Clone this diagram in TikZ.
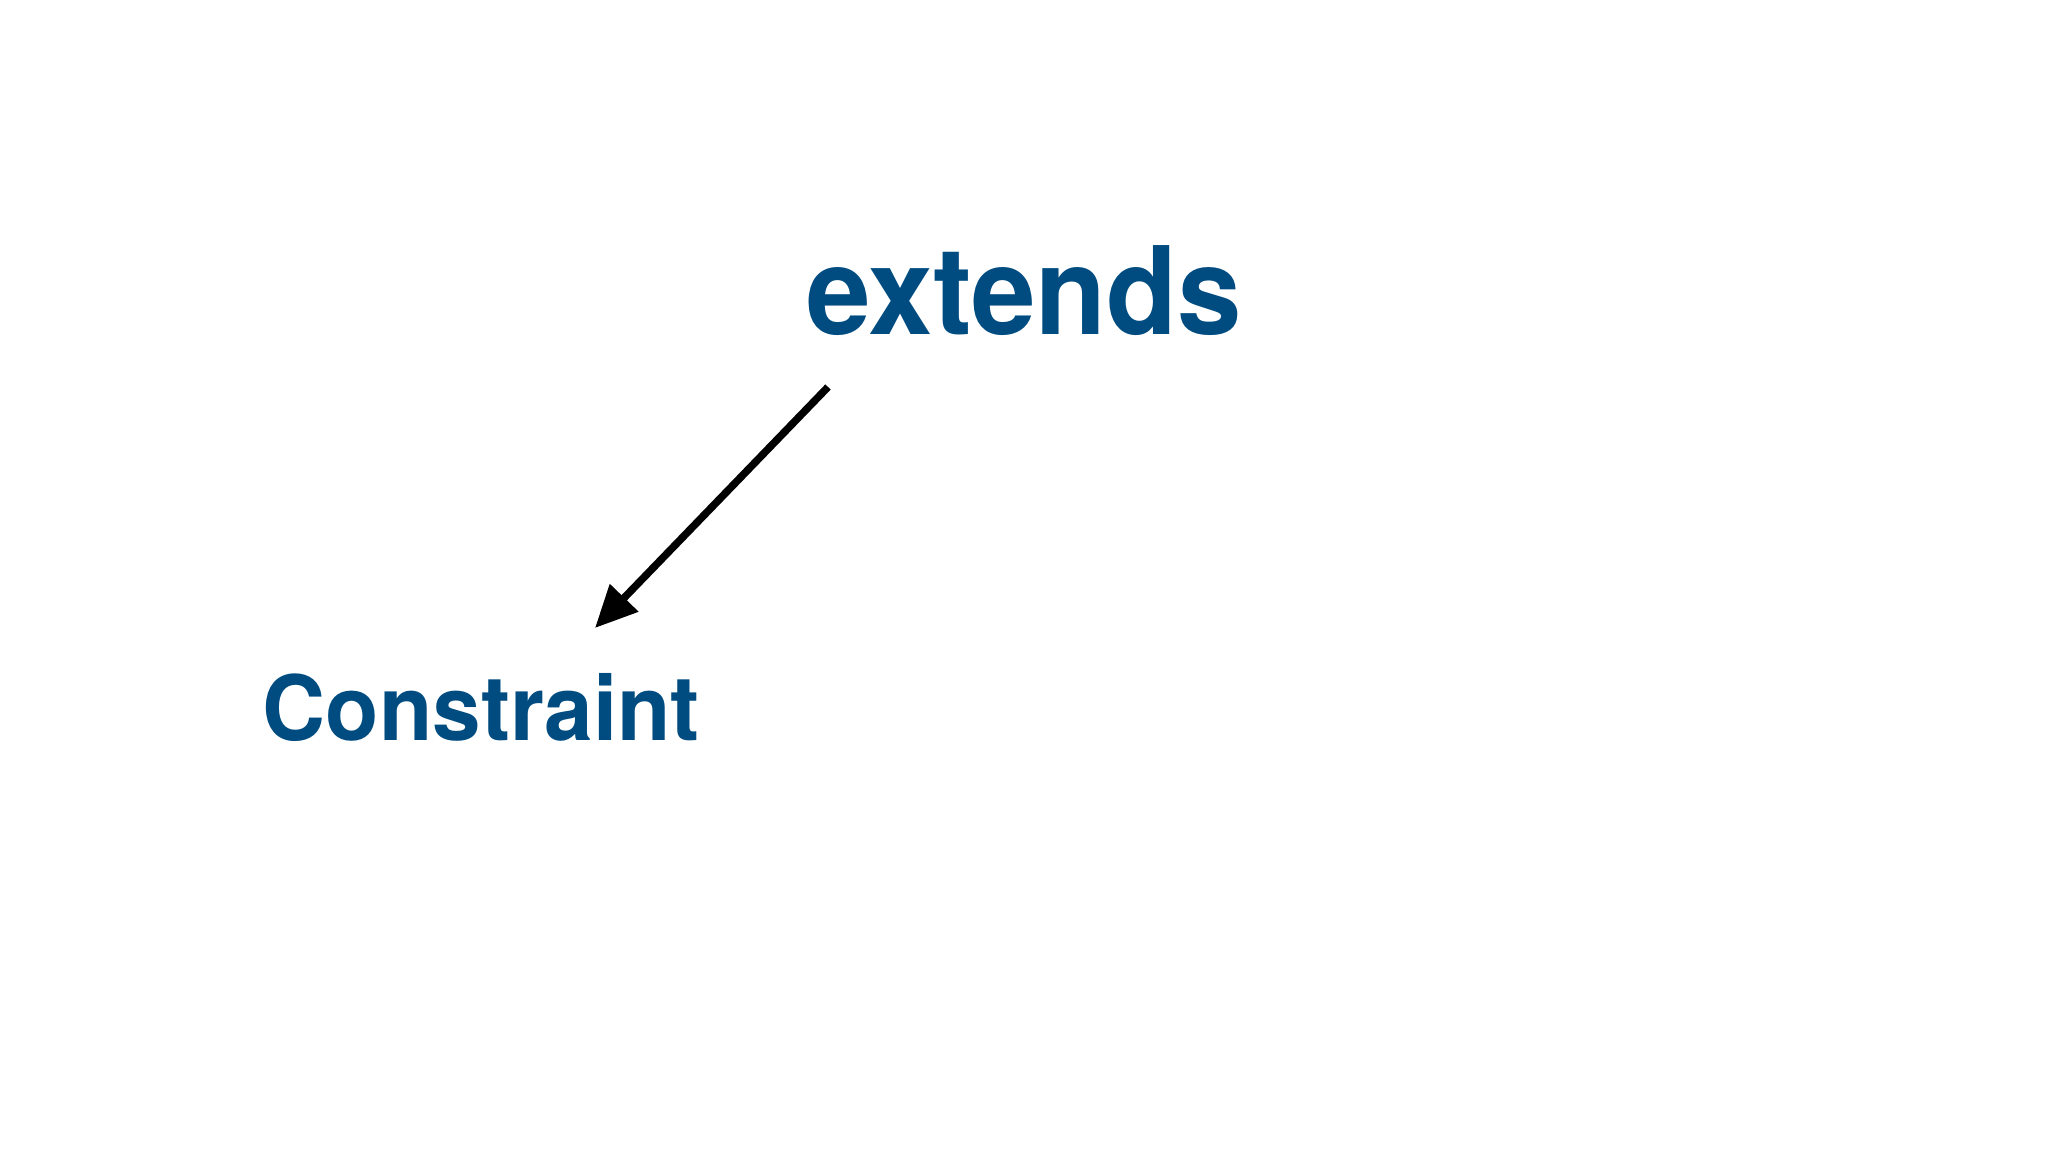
\documentclass[tikz,border=0pt]{standalone}
\usepackage{fontspec}
\setmainfont{TeX Gyre Heros}
\usetikzlibrary{arrows.meta}
\definecolor{keyblue}{RGB}{0,76,128}
\tikzset{word/.style={inner sep=0pt, anchor=base west, text=keyblue, font=\bfseries}}
\tikzset{link/.style={line width=0.075cm, -{Triangle[length=0.42cm, width=0.38cm]}}}

\begin{document}
\begin{tikzpicture}[x=0.01cm,y=-0.01cm]
    \useasboundingbox (0,0) rectangle (2048,1152);
    \node[word, font=\bfseries\fontsize{34.7}{40}\selectfont] (extends) at (806,335) {\scalebox{0.95}[1]{extends}};
    \node[word, font=\bfseries\fontsize{25.6}{30}\selectfont] (constraint) at (262,740) {\scalebox{0.97}[1]{Constraint}};
    \coordinate (tail) at (828,387);
    \coordinate (head) at (595,628);
    \draw[link] (tail) -- (head);
  \end{tikzpicture}
\end{document}
